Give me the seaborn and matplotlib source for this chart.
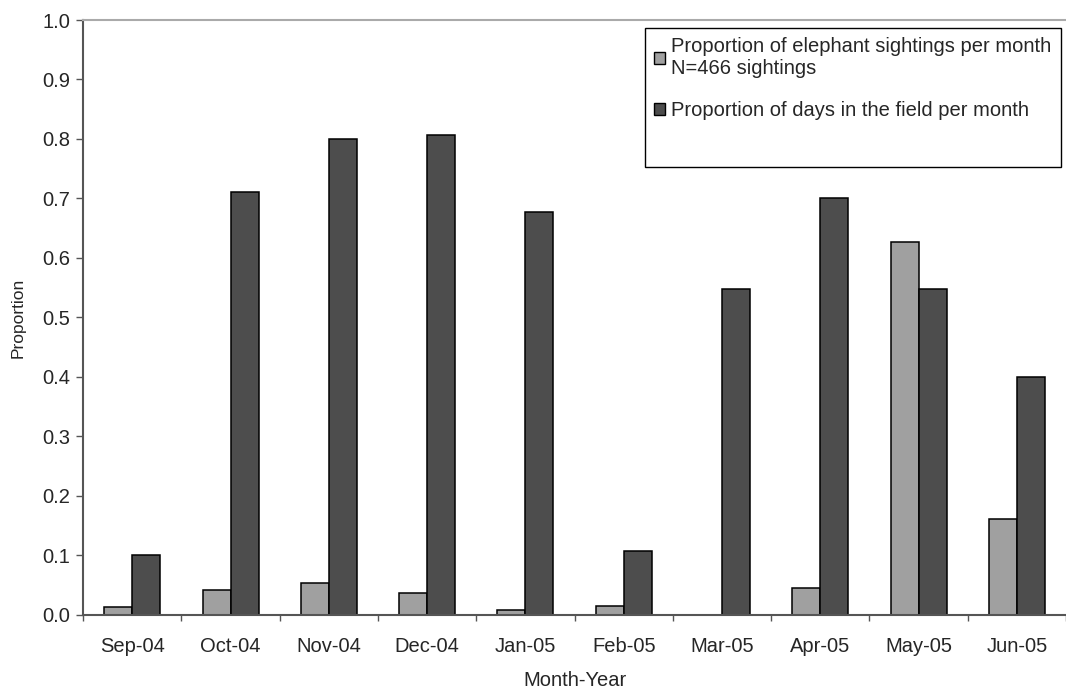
import pandas as pd
import seaborn as sns
import matplotlib.pyplot as plt
from matplotlib.patches import Patch

months = ['Sep-04', 'Oct-04', 'Nov-04', 'Dec-04', 'Jan-05',
          'Feb-05', 'Mar-05', 'Apr-05', 'May-05', 'Jun-05']
sightings = [0.013, 0.041, 0.054, 0.037, 0.008, 0.015, 0.0, 0.045, 0.627, 0.161]
field_days = [0.100, 0.710, 0.800, 0.806, 0.677, 0.107, 0.548, 0.700, 0.548, 0.400]

series_names = ['Proportion of elephant sightings per month\nN=466 sightings',
                'Proportion of days in the field per month']
colors = ['#a0a0a0', '#4d4d4d']

df = pd.DataFrame({'month': months * 2,
                   'value': sightings + field_days,
                   'series': [series_names[0]] * len(months) + [series_names[1]] * len(months)})

sns.set_style('white')
plt.rcParams['font.family'] = ['Liberation Sans', 'DejaVu Sans']

fig = plt.figure(figsize=(10.66, 6.9), dpi=100)
ax = fig.add_axes([0.078, 0.109, 0.922, 0.862])

sns.barplot(data=df, x='month', y='value', hue='series', palette=colors,
            width=0.57, edgecolor='black', linewidth=1.1, saturation=1,
            ax=ax, legend=False)

ax.set_ylim(0, 1.0)
ax.set_xlim(-0.5, len(months) - 0.5)
ax.set_yticks([i / 10 for i in range(11)])
ax.set_yticklabels([f'{i / 10:.1f}' for i in range(11)], fontsize=14.5)

# category boundaries carry the tick marks, labels sit at the centres
ax.set_xticks([i - 0.5 for i in range(len(months) + 1)])
ax.set_xticklabels([])
ax.set_xticks(range(len(months)), minor=True)
ax.set_xticklabels(months, minor=True, fontsize=14.5)
ax.tick_params(axis='x', which='major', direction='out', length=4.5, width=1, color='#555555', bottom=True)
ax.tick_params(axis='x', which='minor', length=0, pad=16)
ax.tick_params(axis='y', direction='out', length=5, width=1, color='#555555', left=True, pad=4.5)

ax.set_xlabel('Month-Year', fontsize=14.5, labelpad=11)
ax.set_ylabel('Proportion', fontsize=12.5, labelpad=12)

for side in ['left', 'bottom']:
    ax.spines[side].set_color('#555555')
    ax.spines[side].set_linewidth(1.5)
ax.spines['top'].set_color('#aaaaaa')
ax.spines['top'].set_linewidth(1.5)
ax.spines['right'].set_visible(False)

# Excel-style legend: a small empty row keeps the space under the last entry
handles = [Patch(facecolor=c, edgecolor='black', linewidth=1) for c in colors]
handles.append(Patch(visible=False))
leg = ax.legend(handles, series_names + [' '], loc='upper right', bbox_to_anchor=(0.9945, 0.987),
                fontsize=14.5, frameon=True, fancybox=False, edgecolor='black',
                handlelength=0.55, handleheight=0.55, handletextpad=0.3,
                labelspacing=1.15, borderpad=0.45, borderaxespad=0, framealpha=1)
leg.get_texts()[2].set_fontsize(6)
leg.get_frame().set_linewidth(1.0)

fig.savefig('out.png', dpi=100)
